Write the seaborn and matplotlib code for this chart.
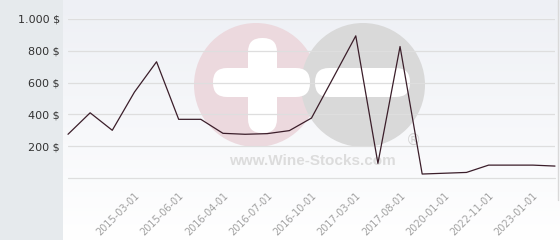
import numpy as np
import pandas as pd
import matplotlib
matplotlib.use("Agg")
import matplotlib.pyplot as plt
import matplotlib.transforms as mtrans
from matplotlib.patches import Circle, FancyBboxPatch, Rectangle
from matplotlib.colors import LinearSegmentedColormap
import seaborn as sns

# ---- data ----
dates = ["2015-01-01", "2015-02-01", "2015-03-01_a", "2015-03-01", "2015-05-01", "2015-06-01",
         "2015-09-01", "2016-04-01", "2016-05-01", "2016-07-01", "2016-08-01", "2016-10-01",
         "2016-12-01", "2017-03-01", "2017-05-01", "2017-08-01", "2018-01-01", "2020-01-01",
         "2021-01-01", "2022-11-01", "2022-12-01", "2023-01-01", "2023-06-01"]
prices = [275, 410, 300, 540, 731, 369, 369, 281, 275, 279, 298, 377, 635, 894,
          92, 827, 25, 30, 35, 81, 81, 81, 75]
tick_idx = [3, 5, 7, 9, 11, 13, 15, 17, 19, 21]
tick_labels = ["2015-03-01", "2015-06-01", "2016-04-01", "2016-07-01", "2016-10-01",
               "2017-03-01", "2017-08-01", "2020-01-01", "2022-11-01", "2023-01-01"]
y_ticks = [200, 400, 600, 800, 1000]
y_labels = ["200 $", "400 $", "600 $", "800 $", "1.000 $"]

df = pd.DataFrame({"idx": np.arange(len(prices)), "price": prices})

sns.set_theme(style="white")
plt.rcParams["font.family"] = ["DejaVu Sans"]

W, H = 560, 240
fig = plt.figure(figsize=(W / 100, H / 100), dpi=100)
fig.patch.set_facecolor("white")

# background axes in pixel coords
bg = fig.add_axes([0, 0, 1, 1])
bg.set_xlim(0, W)
bg.set_ylim(H, 0)
bg.axis("off")
grad = np.linspace(0, 1, 256).reshape(-1, 1)
cmap = LinearSegmentedColormap.from_list("g", ["#eef0f5", "#ffffff"])
bg.imshow(grad, extent=[63, W, 240, 0], cmap=cmap, aspect="auto", zorder=0)
bg.add_patch(Rectangle((0, 0), 63, H, color="#e6eaed", zorder=1, lw=0))
bg.plot([558, 558], [0, 200], color="#d9d9d9", lw=1, zorder=1)
# watermark
bg.add_patch(Circle((256, 85), 62, color="#ecd9de", lw=0, zorder=2))
bg.add_patch(Circle((363, 85), 62, color="#d9d9d9", lw=0, zorder=2))
bg.add_patch(FancyBboxPatch((248 + 14, 38 + 14), 1, 95 - 28,
                            boxstyle="round,pad=14", color="white", lw=0, zorder=3))
bg.add_patch(FancyBboxPatch((213 + 14, 68 + 14), 97 - 28, 1,
                            boxstyle="round,pad=14", color="white", lw=0, zorder=3))
bg.add_patch(FancyBboxPatch((315 + 14, 68 + 14), 95 - 28, 1,
                            boxstyle="round,pad=14", color="white", lw=0, zorder=3))
bg.text(312, 161, "www.Wine-Stocks.com", fontsize=11, fontweight="bold",
        family="Liberation Sans", color="#dcdcdc", ha="center", va="center", zorder=3)
bg.text(413, 140, "®", fontsize=11, color="#d4d4d4", ha="center", va="center", zorder=3)

# main axes
left = 68 / W
right = 555 / W
bottom = 1 - 178 / H
top = 1 - 19 / H
ax = fig.add_axes([left, bottom, right - left, top - bottom])
ax.patch.set_alpha(0)
sns.lineplot(data=df, x="idx", y="price", ax=ax, color="#3b1e2a", lw=0.9, clip_on=False, zorder=5)
ax.set_xlim(0, 22)
ax.set_ylim(0, 1000)
ax.set_yticks(y_ticks)
ax.set_yticklabels(y_labels)
ax.set_xticks(tick_idx)
ax.set_xticklabels(tick_labels, rotation=45, ha="right", rotation_mode="anchor")
shift = mtrans.ScaledTranslation(-4 / 100, 0, fig.dpi_scale_trans)
for lab in ax.get_xticklabels():
    lab.set_transform(lab.get_transform() + shift)
ax.set_xlabel("")
ax.set_ylabel("")
for s in ax.spines.values():
    s.set_visible(False)
ax.grid(axis="y", color="#dedede", lw=0.9)
ax.grid(axis="x", visible=False)
ax.axhline(0, color="#dedede", lw=0.9, clip_on=False, zorder=1)
ax.tick_params(axis="y", length=0, pad=6, labelsize=8, labelcolor="#333333")
ax.tick_params(axis="x", length=0, pad=9, labelsize=7, labelcolor="#a0a0a0")

fig.savefig("out.png", dpi=100)
